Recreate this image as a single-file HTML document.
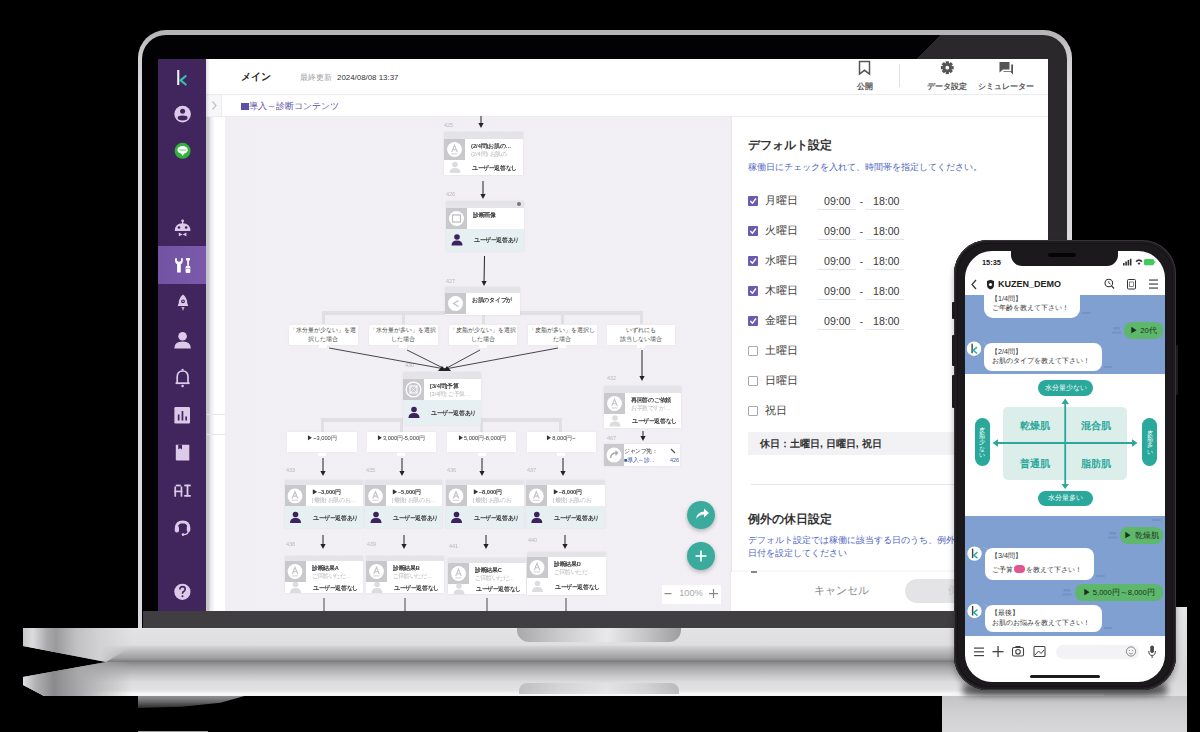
<!DOCTYPE html>
<html><head><meta charset="utf-8"><style>
*{margin:0;padding:0;box-sizing:border-box}
html,body{width:1200px;height:732px;overflow:hidden;background:#000}
body{position:relative;font-family:"Liberation Sans",sans-serif;color:#333}
.a{position:absolute}
.t{position:absolute;white-space:nowrap;line-height:1}
.full{position:absolute;left:0;top:0;width:1200px;height:732px}
svg{position:absolute;left:0;top:0}
</style></head><body>
<div class="a" style="left:138px;top:695px;width:110px;height:13px;background:linear-gradient(#9a9a9c,#6a6a6c 50%,#2a2a2a);clip-path:polygon(0 0,100% 0,75% 60%,40% 90%,0 100%)"></div>
<div class="full" style="background:linear-gradient(#88888a 0px,#88888a 662px,#a8a8aa 668px,#c4c4c6 675px,#dcdcde 682px,#e2e2e4 690px,#f8f8f8 694px,#f4f4f4 696px);clip-path:polygon(106px 662px,1104px 662px,1187px 677px,1187px 685px,1166px 696px,44px 696px,23px 685px,23px 677px)"></div>
<div class="a" style="left:23px;top:662px;width:110px;height:34px;background:linear-gradient(90deg,#e0e0e2 0,#b0b0b2 12%,#8a8a8c 28%,#a8a8aa 50%,rgba(200,200,202,0) 100%);clip-path:polygon(83px 0,110px 0,110px 34px,21px 34px,0 23px,0 15px)"></div>
<div class="full" style="background:linear-gradient(#ebe9ec 628px,#e2e1e4 630px,#dfdee1 645px,#cfcfd1 647px,#b9b9bb 652px,#a0a0a2 658px,#78787a 662px);clip-path:polygon(23px 628px,1187px 628px,1187px 646px,1104px 662px,106px 662px,23px 646px)"></div>
<div class="a" style="left:23px;top:628px;width:110px;height:34px;background:linear-gradient(90deg,#c8c8ca 0,#dcdcde 9%,#a9a9ab 22%,#9a9a9c 30%,#c0c0c2 48%,#d2d2d4 70%,rgba(214,212,215,0) 100%);clip-path:polygon(0 0,100% 0,100% 18px,83px 34px,0 18px)"></div>
<div class="a" style="left:517px;top:628px;width:164px;height:14px;border-radius:0 0 12px 12px;background:linear-gradient(90deg,#a9a9ab,#c9c9cb 25%,#e9e9eb 55%,#c2c2c4 80%,#9d9d9f)"></div>
<div class="a" style="left:519px;top:683px;width:160px;height:11px;border-radius:8px 8px 0 0;background:linear-gradient(90deg,#b4b4b6,#d0d0d2 25%,#e4e4e6 55%,#cdcdcf 80%,#acacae);opacity:.75"></div>
<div class="a" style="left:138px;top:731px;width:70px;height:1px;background:#9a9a9a"></div>
<div class="a" style="left:1104px;top:607px;width:83px;height:90px;background:linear-gradient(#e6e6e8,#dedee0 40%,#d8d8da 80%,#e0e0e2)"></div>
<div class="a" style="left:942px;top:696px;width:245px;height:36px;background:linear-gradient(#c4c4c6,#c8c8ca 6px,#d0d0d2 16px,#d8d8da)"></div>
<div class="a" style="left:962px;top:684px;width:206px;height:12px;border-radius:6px;background:#707072;filter:blur(3px)"></div>
<div class="a" style="left:138px;top:30px;width:934px;height:598px;border-radius:28px 28px 0 0;background:linear-gradient(#b6b4b7 0,#b8b6b9 5px,#d2d0d3 28px,#dcdadd 60px,#dcdadd 100%)"></div>
<div class="a" style="left:142px;top:35px;width:925px;height:593px;border-radius:24px 24px 0 0;background:linear-gradient(135deg,#020103 52.6%,#2a282b 52.6%)"></div>
<div class="a" style="left:143px;top:611px;width:924px;height:17px;background:#403e41"></div>
<div class="full" style="clip-path:inset(59px 152px 121px 158px)">
<div class="a" style="left:158px;top:59px;width:890px;height:552px;background:#fff"></div>
<div class="a" style="left:158px;top:59px;width:48px;height:552px;background:#41255d"></div>
<div class="a" style="left:158px;top:246px;width:48px;height:38px;background:linear-gradient(90deg,#7252a3,#7b5aac)"></div>
<div class="a" style="left:206px;top:117px;width:19px;height:494px;background:linear-gradient(90deg,#c5c6cc 0,#c9cad0 3px,#e6e6ea 4px,#fff 9px,#fff 100%)"></div>
<div class="a" style="left:225px;top:117px;width:506px;height:494px;background:#f1eff4"></div>
<div class="a" style="left:206px;top:94px;width:842px;height:1px;background:#ebebef"></div>
<div class="a" style="left:206px;top:95px;width:16px;height:22px;background:#f7f7f9;border-right:1px solid #ececf0;border-bottom:1px solid #ececf0"></div>
<div class="a" style="left:206px;top:59px;width:4px;height:58px;background:linear-gradient(90deg,rgba(0,0,0,.12),rgba(0,0,0,0))"></div>
<div class="a" style="left:222px;top:116px;width:826px;height:1px;background:#ececf0"></div>
<div class="a" style="left:207px;top:414px;width:18px;height:1px;background:#e8e8ec"></div>
<div class="a" style="left:207px;top:434px;width:18px;height:1px;background:#e8e8ec"></div>
<div class="a" style="left:731px;top:117px;width:317px;height:494px;background:#fff;border-left:1px solid #e8e8ec"></div>
<div class="t" style="left:241px;top:72.4px;font-size:10.2px;color:#222;font-weight:bold;">メイン</div>
<div class="t" style="left:300px;top:73.6px;font-size:7.8px;color:#a0a0a0;font-weight:normal;">最終更新</div>
<div class="t" style="left:337px;top:73.5px;font-size:7.9px;color:#333;font-weight:normal;">2024/08/08 13:37</div>
<div class="t" style="left:714.5px;width:300px;text-align:center;top:82.5px;font-size:8px;color:#555;font-weight:bold;">公開</div>
<div class="t" style="left:797px;width:300px;text-align:center;top:82.5px;font-size:8px;color:#555;font-weight:bold;">データ設定</div>
<div class="t" style="left:856px;width:300px;text-align:center;top:82.5px;font-size:8px;color:#555;font-weight:bold;">シミュレーター</div>
<div class="a" style="left:899px;top:64px;width:1px;height:23px;background:#e2e2e6"></div>
<div class="a" style="left:241px;top:102.5px;width:7.5px;height:7px;background:#5b4fa6"></div>
<div class="t" style="left:249px;top:101.9px;font-size:9.2px;color:#5d52a8;font-weight:normal;">導入～診断コンテンツ</div>
<div class="t" style="left:748px;top:139.0px;font-size:12px;color:#333;font-weight:bold;">デフォルト設定</div>
<div class="t" style="left:748px;top:162.7px;font-size:8.7px;color:#4f66bf;font-weight:normal;">稼働日にチェックを入れて、時間帯を指定してください。</div>
<div class="a" style="left:748px;top:196px;width:10px;height:10px;background:#6a5ab0;border-radius:1px"></div>
<svg width="1200" height="732" style="pointer-events:none"><polyline points="750.3,201.0 752.4,203.2 756,198.5" fill="none" stroke="#fff" stroke-width="1.4"/></svg>
<div class="t" style="left:824px;top:195.7px;font-size:10.6px;color:#3a3a3a;font-weight:normal;">09:00</div>
<div class="t" style="left:873px;top:195.7px;font-size:10.6px;color:#3a3a3a;font-weight:normal;">18:00</div>
<div class="t" style="left:859.5px;top:195.5px;font-size:11px;color:#555;font-weight:normal;">-</div>
<div class="a" style="left:818px;top:209px;width:38px;height:1px;background:#e3e3ea"></div>
<div class="a" style="left:866px;top:209px;width:38px;height:1px;background:#e3e3ea"></div>
<div class="t" style="left:765px;top:195.4px;font-size:11.2px;color:#454545;font-weight:normal;">月曜日</div>
<div class="a" style="left:748px;top:226px;width:10px;height:10px;background:#6a5ab0;border-radius:1px"></div>
<svg width="1200" height="732" style="pointer-events:none"><polyline points="750.3,231.0 752.4,233.2 756,228.5" fill="none" stroke="#fff" stroke-width="1.4"/></svg>
<div class="t" style="left:824px;top:225.7px;font-size:10.6px;color:#3a3a3a;font-weight:normal;">09:00</div>
<div class="t" style="left:873px;top:225.7px;font-size:10.6px;color:#3a3a3a;font-weight:normal;">18:00</div>
<div class="t" style="left:859.5px;top:225.5px;font-size:11px;color:#555;font-weight:normal;">-</div>
<div class="a" style="left:818px;top:239px;width:38px;height:1px;background:#e3e3ea"></div>
<div class="a" style="left:866px;top:239px;width:38px;height:1px;background:#e3e3ea"></div>
<div class="t" style="left:765px;top:225.4px;font-size:11.2px;color:#454545;font-weight:normal;">火曜日</div>
<div class="a" style="left:748px;top:256px;width:10px;height:10px;background:#6a5ab0;border-radius:1px"></div>
<svg width="1200" height="732" style="pointer-events:none"><polyline points="750.3,261.0 752.4,263.2 756,258.5" fill="none" stroke="#fff" stroke-width="1.4"/></svg>
<div class="t" style="left:824px;top:255.7px;font-size:10.6px;color:#3a3a3a;font-weight:normal;">09:00</div>
<div class="t" style="left:873px;top:255.7px;font-size:10.6px;color:#3a3a3a;font-weight:normal;">18:00</div>
<div class="t" style="left:859.5px;top:255.5px;font-size:11px;color:#555;font-weight:normal;">-</div>
<div class="a" style="left:818px;top:269px;width:38px;height:1px;background:#e3e3ea"></div>
<div class="a" style="left:866px;top:269px;width:38px;height:1px;background:#e3e3ea"></div>
<div class="t" style="left:765px;top:255.4px;font-size:11.2px;color:#454545;font-weight:normal;">水曜日</div>
<div class="a" style="left:748px;top:286px;width:10px;height:10px;background:#6a5ab0;border-radius:1px"></div>
<svg width="1200" height="732" style="pointer-events:none"><polyline points="750.3,291.0 752.4,293.2 756,288.5" fill="none" stroke="#fff" stroke-width="1.4"/></svg>
<div class="t" style="left:824px;top:285.7px;font-size:10.6px;color:#3a3a3a;font-weight:normal;">09:00</div>
<div class="t" style="left:873px;top:285.7px;font-size:10.6px;color:#3a3a3a;font-weight:normal;">18:00</div>
<div class="t" style="left:859.5px;top:285.5px;font-size:11px;color:#555;font-weight:normal;">-</div>
<div class="a" style="left:818px;top:299px;width:38px;height:1px;background:#e3e3ea"></div>
<div class="a" style="left:866px;top:299px;width:38px;height:1px;background:#e3e3ea"></div>
<div class="t" style="left:765px;top:285.4px;font-size:11.2px;color:#454545;font-weight:normal;">木曜日</div>
<div class="a" style="left:748px;top:316px;width:10px;height:10px;background:#6a5ab0;border-radius:1px"></div>
<svg width="1200" height="732" style="pointer-events:none"><polyline points="750.3,321.0 752.4,323.2 756,318.5" fill="none" stroke="#fff" stroke-width="1.4"/></svg>
<div class="t" style="left:824px;top:315.7px;font-size:10.6px;color:#3a3a3a;font-weight:normal;">09:00</div>
<div class="t" style="left:873px;top:315.7px;font-size:10.6px;color:#3a3a3a;font-weight:normal;">18:00</div>
<div class="t" style="left:859.5px;top:315.5px;font-size:11px;color:#555;font-weight:normal;">-</div>
<div class="a" style="left:818px;top:329px;width:38px;height:1px;background:#e3e3ea"></div>
<div class="a" style="left:866px;top:329px;width:38px;height:1px;background:#e3e3ea"></div>
<div class="t" style="left:765px;top:315.4px;font-size:11.2px;color:#454545;font-weight:normal;">金曜日</div>
<div class="a" style="left:748px;top:346px;width:10px;height:10px;background:#fff;border:1px solid #a9a9ad;border-radius:1px"></div>
<div class="t" style="left:765px;top:345.4px;font-size:11.2px;color:#454545;font-weight:normal;">土曜日</div>
<div class="a" style="left:748px;top:376px;width:10px;height:10px;background:#fff;border:1px solid #a9a9ad;border-radius:1px"></div>
<div class="t" style="left:765px;top:375.4px;font-size:11.2px;color:#454545;font-weight:normal;">日曜日</div>
<div class="a" style="left:748px;top:406px;width:10px;height:10px;background:#fff;border:1px solid #a9a9ad;border-radius:1px"></div>
<div class="t" style="left:765px;top:405.4px;font-size:11.2px;color:#454545;font-weight:normal;">祝日</div>
<div class="a" style="left:748px;top:432px;width:300px;height:23px;background:#f2f2f5"></div>
<div class="t" style="left:760px;top:438.8px;font-size:10.4px;color:#333;font-weight:bold;">休日：土曜日, 日曜日, 祝日</div>
<div class="a" style="left:751px;top:484px;width:297px;height:1px;background:#e6e6ea"></div>
<div class="t" style="left:748px;top:513.0px;font-size:12px;color:#333;font-weight:bold;">例外の休日設定</div>
<div class="t" style="left:748px;top:536.0px;font-size:9px;color:#4f66bf;font-weight:normal;">デフォルト設定では稼働に該当する日のうち、例外</div>
<div class="t" style="left:748px;top:548.5px;font-size:9px;color:#4f66bf;font-weight:normal;">日付を設定してください</div>
<div class="a" style="left:731px;top:572px;width:317px;height:39px;background:#fff;box-shadow:0 -1px 3px rgba(0,0,0,.06)"></div>
<div class="t" style="left:691px;width:300px;text-align:center;top:584.5px;font-size:11px;color:#8a8a8a;font-weight:normal;">キャンセル</div>
<div class="a" style="left:905px;top:579px;width:120px;height:24px;background:#e4e4e7;border-radius:12px"></div>
<div class="t" style="left:948px;top:585.0px;font-size:11px;color:#c9c9cd;font-weight:normal;">保存</div>
<div class="a" style="left:751px;top:571px;width:6px;height:1.5px;background:#888"></div>
<svg width="1200" height="732"><rect x="177.2" y="70" width="2.1" height="15" fill="#f2f0f6"/><polyline points="186.3,75.5 180.6,80.3 186.3,85" fill="none" stroke="#37bfb5" stroke-width="2.2"/><circle cx="182.6" cy="114.1" r="8.3" fill="#dccbe8"/><circle cx="182.6" cy="111.2" r="2.5" fill="#41255d"/><ellipse cx="182.6" cy="118" rx="5" ry="2.4" fill="#41255d"/><circle cx="182.6" cy="150.8" r="8" fill="#2fb33c"/><ellipse cx="182.6" cy="150" rx="5.2" ry="3.9" fill="#fff"/><path d="M181,153.2 L182.6,155.9 L184.5,153.2Z" fill="#fff"/><rect x="179.5" y="149.2" width="6.2" height="1.6" fill="#2fb33c" opacity=".45"/><circle cx="182.6" cy="220.8" r="1.4" fill="#dccbe8"/><rect x="182" y="221" width="1.2" height="3" fill="#dccbe8"/><path d="M174.8,231 Q174.8,223.2 182.6,223.2 Q190.4,223.2 190.4,231Z" fill="#dccbe8"/><circle cx="179" cy="227.5" r="1.3" fill="#41255d"/><circle cx="186.2" cy="227.5" r="1.3" fill="#41255d"/><path d="M178.8,232.6 L182.6,234.4 L178.8,236.2Z M186.4,232.6 L182.6,234.4 L186.4,236.2Z" fill="#dccbe8"/><path d="M175,258.3 Q174.8,263.6 177.1,264.2 L177.1,272.5 L180.8,272.5 L180.8,264.2 Q183.1,263.6 182.9,258.3 L181.1,258.3 L181.1,260.8 Q179,262.6 176.9,260.8 L176.9,258.3 Z" fill="#fff"/><rect x="186" y="258" width="4" height="2.4" rx=".6" fill="#fff"/><rect x="187.2" y="260" width="1.7" height="5.8" fill="#fff"/><rect x="185.6" y="266" width="4.7" height="7" rx="1" fill="#fff"/><rect x="185.6" y="268.2" width="4.7" height=".7" fill="#9c86c4"/><path d="M183,294.6 Q187.2,298 187.2,303 L188.3,306 L177.7,306 L178.8,303 Q178.8,298 183,294.6Z" fill="#dccbe8"/><circle cx="183" cy="301.3" r="1.9" fill="#41255d"/><circle cx="183" cy="301.3" r=".8" fill="#dccbe8"/><path d="M181.4,307 L184.6,307 L183,311Z" fill="#dccbe8" opacity=".8"/><circle cx="182.6" cy="336.3" r="4.3" fill="#dccbe8"/><path d="M174.3,348.4 Q174.3,341.6 182.6,341.6 Q190.9,341.6 190.9,348.4Z" fill="#dccbe8"/><path d="M177.2,383 L177.2,377 Q177.2,371 182.6,371 Q188,371 188,377 L188,383" fill="none" stroke="#dccbe8" stroke-width="1.7"/><path d="M175.6,383.2 L189.6,383.2" stroke="#dccbe8" stroke-width="1.8"/><circle cx="182.6" cy="369.8" r="1.1" fill="#dccbe8"/><circle cx="182.6" cy="386" r="1.3" fill="#dccbe8"/><rect x="174.4" y="407" width="15.6" height="16.5" rx="1.2" fill="#dccbe8"/><rect x="177.8" y="414.5" width="1.7" height="6" fill="#41255d"/><rect x="181.6" y="411" width="1.7" height="9.5" fill="#41255d"/><rect x="185.3" y="416.5" width="1.7" height="4" fill="#41255d"/><path d="M175.8,444.8 L189.3,444.8 L189.3,460.6 L177.2,460.6 Q175.8,460.6 175.8,459.2Z" fill="#dccbe8"/><path d="M178.2,444.8 L182,444.8 L182,449.5 L180.1,448.2 L178.2,449.5Z" fill="#41255d"/><g fill="#dccbe8"><rect x="174.4" y="486.4" width="1.7" height="10.3"/><rect x="180.6" y="486.4" width="1.7" height="10.3"/><rect x="175.8" y="484.6" width="5" height="1.8"/><rect x="174.4" y="490.6" width="7.9" height="1.6"/><rect x="184.2" y="484.6" width="6.6" height="1.7"/><rect x="184.2" y="495" width="6.6" height="1.7"/><rect x="186.6" y="484.6" width="1.8" height="12"/></g><path d="M176.4,529 L176.4,527.5 Q176.6,522 182.8,521.8 Q188.6,522 188.8,527.5 L188.8,530" fill="none" stroke="#dccbe8" stroke-width="2.7"/><rect x="174.8" y="525.8" width="4.2" height="6.6" rx="2" fill="#dccbe8"/><rect x="186.8" y="525.5" width="3.4" height="6.2" rx="1.5" fill="#dccbe8"/><path d="M188.5,531 Q188,534.6 183.5,534.6" fill="none" stroke="#dccbe8" stroke-width="1.4"/><circle cx="183" cy="534.6" r="1.3" fill="#dccbe8"/><circle cx="182.4" cy="591.8" r="8.1" fill="#dccbe8"/><path d="M179.8,589.6 Q179.8,586.6 182.5,586.6 Q185.2,586.6 185.2,589.2 Q185.2,590.8 183.3,591.8 Q182.5,592.3 182.5,593.8" fill="none" stroke="#41255d" stroke-width="1.6"/><circle cx="182.5" cy="596.3" r="1" fill="#41255d"/><path d="M859.5,61.5 L869.5,61.5 L869.5,74 L864.5,70.3 L859.5,74Z" fill="none" stroke="#555" stroke-width="1.5"/><g fill="#555"><rect x="945.70" y="61.30" width="3.2" height="3" transform="rotate(0 947.3 67.7)"/><rect x="945.70" y="61.30" width="3.2" height="3" transform="rotate(45 947.3 67.7)"/><rect x="945.70" y="61.30" width="3.2" height="3" transform="rotate(90 947.3 67.7)"/><rect x="945.70" y="61.30" width="3.2" height="3" transform="rotate(135 947.3 67.7)"/><rect x="945.70" y="61.30" width="3.2" height="3" transform="rotate(180 947.3 67.7)"/><rect x="945.70" y="61.30" width="3.2" height="3" transform="rotate(225 947.3 67.7)"/><rect x="945.70" y="61.30" width="3.2" height="3" transform="rotate(270 947.3 67.7)"/><rect x="945.70" y="61.30" width="3.2" height="3" transform="rotate(315 947.3 67.7)"/><circle cx="947.3" cy="67.7" r="4.6"/></g><circle cx="947.3" cy="67.7" r="1.9" fill="#fff"/><path d="M999.5,62 L1009.5,62 L1009.5,69.5 L1003,69.5 L999.5,72.5Z" fill="#555"/><path d="M1011.2,64.5 L1013,64.5 L1013,74.5 L1010.5,72 L1003.5,72 L1003.5,71.2 L1011.2,71.2Z" fill="#555"/><polyline points="212.5,101.5 216,105.5 212.5,109.5" fill="none" stroke="#c2c2c8" stroke-width="1.2"/></svg>
<div class="a" style="left:258px;top:128px;width:470px;height:480px;background-image:linear-gradient(rgba(255,255,255,.55) 1px,transparent 1px),linear-gradient(90deg,rgba(255,255,255,.55) 1px,transparent 1px);background-size:6px 6px;opacity:.15"></div>
<div class="t" style="left:444px;top:122.0px;font-size:6px;color:#bab8c0;font-weight:normal;transform:scale(0.917);transform-origin:0 50%;">425</div>
<div class="a" style="left:444px;top:132px;width:79px;height:43px;background:#fff;box-shadow:0 0 2px rgba(0,0,0,.08)"></div>
<div class="a" style="left:444px;top:132px;width:79px;height:7px;background:#e4e3e8"></div>
<div class="a" style="left:444px;top:139px;width:21px;height:21px;background:#c9c8cd"></div>
<div class="t" style="left:471px;top:142.5px;font-size:6px;color:#333;font-weight:bold;transform:scale(0.950);transform-origin:0 50%;">(2/4問)お肌の…</div>
<div class="t" style="left:471px;top:151.0px;font-size:6px;color:#b5b5bb;font-weight:normal;transform:scale(0.933);transform-origin:0 50%;">(2/4問) お肌の</div>
<div class="t" style="left:472px;top:164.5px;font-size:6px;color:#333;font-weight:bold;transform:scale(0.933);transform-origin:0 50%;">ユーザー返答なし</div>
<div class="t" style="left:446px;top:191.0px;font-size:6px;color:#bab8c0;font-weight:normal;transform:scale(0.917);transform-origin:0 50%;">426</div>
<div class="a" style="left:446px;top:201px;width:78px;height:50px;background:#fff;box-shadow:0 0 2px rgba(0,0,0,.08)"></div>
<div class="a" style="left:446px;top:201px;width:78px;height:7px;background:#e4e3e8"></div>
<div class="a" style="left:446px;top:208px;width:21px;height:21px;background:#c9c8cd"></div>
<div class="t" style="left:473px;top:211.5px;font-size:6px;color:#333;font-weight:bold;transform:scale(0.950);transform-origin:0 50%;">診断画像</div>
<div class="a" style="left:446px;top:229px;width:78px;height:22px;background:#e6f0f2"></div>
<div class="t" style="left:474px;top:237.0px;font-size:6px;color:#333;font-weight:bold;transform:scale(0.933);transform-origin:0 50%;">ユーザー返答あり</div>
<div class="t" style="left:446px;top:278.0px;font-size:6px;color:#bab8c0;font-weight:normal;transform:scale(0.917);transform-origin:0 50%;">427</div>
<div class="a" style="left:322px;top:311px;width:321px;height:3.5px;background:#e0dfe4"></div>
<div class="a" style="left:321.5px;top:311px;width:3px;height:13px;background:#e0dfe4"></div>
<div class="a" style="left:401.5px;top:311px;width:3px;height:13px;background:#e0dfe4"></div>
<div class="a" style="left:481.5px;top:311px;width:3px;height:13px;background:#e0dfe4"></div>
<div class="a" style="left:560.5px;top:311px;width:3px;height:13px;background:#e0dfe4"></div>
<div class="a" style="left:639.5px;top:311px;width:3px;height:13px;background:#e0dfe4"></div>
<div class="a" style="left:445px;top:287px;width:75px;height:28px;background:#fff;box-shadow:0 0 2px rgba(0,0,0,.08)"></div>
<div class="a" style="left:445px;top:287px;width:75px;height:6px;background:#e4e3e8"></div>
<div class="a" style="left:445px;top:293px;width:21px;height:21px;background:#c9c8cd"></div>
<div class="t" style="left:472px;top:296.5px;font-size:6px;color:#333;font-weight:bold;transform:scale(0.950);transform-origin:0 50%;">お肌のタイプが</div>
<div class="a" style="left:288.75px;top:324.5px;width:68.94999999999999px;height:20px;background:#fff;box-shadow:0 0 2px rgba(0,0,0,.06)"></div>
<div class="t" style="left:173.22500000000002px;width:300px;text-align:center;top:327.3px;font-size:6.4px;color:#444;font-weight:normal;">「水分量が少ない」を選</div>
<div class="t" style="left:173.22500000000002px;width:300px;text-align:center;top:335.8px;font-size:6.4px;color:#444;font-weight:normal;">択した場合</div>
<div class="a" style="left:319.225px;top:345px;width:8px;height:3px;background:#fff"></div>
<div class="a" style="left:369px;top:324.5px;width:68.5px;height:20px;background:#fff;box-shadow:0 0 2px rgba(0,0,0,.06)"></div>
<div class="t" style="left:253.25px;width:300px;text-align:center;top:327.3px;font-size:6.4px;color:#444;font-weight:normal;">「水分量が多い」を選択</div>
<div class="t" style="left:253.25px;width:300px;text-align:center;top:335.8px;font-size:6.4px;color:#444;font-weight:normal;">した場合</div>
<div class="a" style="left:399.25px;top:345px;width:8px;height:3px;background:#fff"></div>
<div class="a" style="left:448.7px;top:324.5px;width:68.59999999999997px;height:20px;background:#fff;box-shadow:0 0 2px rgba(0,0,0,.06)"></div>
<div class="t" style="left:333.0px;width:300px;text-align:center;top:327.3px;font-size:6.4px;color:#444;font-weight:normal;">「皮脂が少ない」を選択</div>
<div class="t" style="left:333.0px;width:300px;text-align:center;top:335.8px;font-size:6.4px;color:#444;font-weight:normal;">した場合</div>
<div class="a" style="left:479.0px;top:345px;width:8px;height:3px;background:#fff"></div>
<div class="a" style="left:527.8px;top:324.5px;width:69.0px;height:20px;background:#fff;box-shadow:0 0 2px rgba(0,0,0,.06)"></div>
<div class="t" style="left:412.29999999999995px;width:300px;text-align:center;top:327.3px;font-size:6.4px;color:#444;font-weight:normal;">「皮脂が多い」を選択し</div>
<div class="t" style="left:412.29999999999995px;width:300px;text-align:center;top:335.8px;font-size:6.4px;color:#444;font-weight:normal;">た場合</div>
<div class="a" style="left:558.3px;top:345px;width:8px;height:3px;background:#fff"></div>
<div class="a" style="left:607.3px;top:324.5px;width:68.20000000000005px;height:20px;background:#fff;box-shadow:0 0 2px rgba(0,0,0,.06)"></div>
<div class="t" style="left:491.4px;width:300px;text-align:center;top:327.3px;font-size:6.4px;color:#444;font-weight:normal;">いずれにも</div>
<div class="t" style="left:491.4px;width:300px;text-align:center;top:335.8px;font-size:6.4px;color:#444;font-weight:normal;">該当しない場合</div>
<div class="a" style="left:637.4px;top:345px;width:8px;height:3px;background:#fff"></div>
<div class="t" style="left:405px;top:362.0px;font-size:6px;color:#bab8c0;font-weight:normal;transform:scale(0.917);transform-origin:0 50%;">430</div>
<div class="t" style="left:607px;top:375.0px;font-size:6px;color:#bab8c0;font-weight:normal;transform:scale(0.917);transform-origin:0 50%;">432</div>
<div class="a" style="left:322px;top:418px;width:239px;height:3.5px;background:#e0dfe4"></div>
<div class="a" style="left:320.5px;top:418px;width:3px;height:14px;background:#e0dfe4"></div>
<div class="a" style="left:399.5px;top:418px;width:3px;height:14px;background:#e0dfe4"></div>
<div class="a" style="left:479.5px;top:418px;width:3px;height:14px;background:#e0dfe4"></div>
<div class="a" style="left:558.5px;top:418px;width:3px;height:14px;background:#e0dfe4"></div>
<div class="a" style="left:403px;top:372px;width:78px;height:53px;background:#fff;box-shadow:0 0 2px rgba(0,0,0,.08)"></div>
<div class="a" style="left:403px;top:372px;width:78px;height:7px;background:#e4e3e8"></div>
<div class="a" style="left:403px;top:379px;width:21px;height:21px;background:#c9c8cd"></div>
<div class="t" style="left:430px;top:382.5px;font-size:6px;color:#333;font-weight:bold;transform:scale(0.950);transform-origin:0 50%;">[3/4問]予算</div>
<div class="t" style="left:430px;top:391.0px;font-size:6px;color:#b5b5bb;font-weight:normal;transform:scale(0.933);transform-origin:0 50%;">[3/4問] ご予算…</div>
<div class="a" style="left:403px;top:400px;width:78px;height:25px;background:#e6f0f2"></div>
<div class="t" style="left:431px;top:409.5px;font-size:6px;color:#333;font-weight:bold;transform:scale(0.933);transform-origin:0 50%;">ユーザー返答あり</div>
<div class="a" style="left:287px;top:432px;width:70px;height:20px;background:#fff;box-shadow:0 0 2px rgba(0,0,0,.06)"></div>
<div class="t" style="left:172.0px;width:300px;text-align:center;top:434.5px;font-size:6px;color:#333;font-weight:normal;transform:scale(0.950);transform-origin:50% 50%;">▶~3,000円</div>
<div class="a" style="left:318.0px;top:453px;width:8px;height:3px;background:#fff"></div>
<div class="a" style="left:366.8px;top:432px;width:68.94999999999999px;height:20px;background:#fff;box-shadow:0 0 2px rgba(0,0,0,.06)"></div>
<div class="t" style="left:251.27499999999998px;width:300px;text-align:center;top:434.5px;font-size:6px;color:#333;font-weight:normal;transform:scale(0.950);transform-origin:50% 50%;">▶3,000円-5,000円</div>
<div class="a" style="left:397.275px;top:453px;width:8px;height:3px;background:#fff"></div>
<div class="a" style="left:447px;top:432px;width:69.29999999999995px;height:20px;background:#fff;box-shadow:0 0 2px rgba(0,0,0,.06)"></div>
<div class="t" style="left:331.65px;width:300px;text-align:center;top:434.5px;font-size:6px;color:#333;font-weight:normal;transform:scale(0.950);transform-origin:50% 50%;">▶5,000円-8,000円</div>
<div class="a" style="left:477.65px;top:453px;width:8px;height:3px;background:#fff"></div>
<div class="a" style="left:526.75px;top:432px;width:69.25px;height:20px;background:#fff;box-shadow:0 0 2px rgba(0,0,0,.06)"></div>
<div class="t" style="left:411.375px;width:300px;text-align:center;top:434.5px;font-size:6px;color:#333;font-weight:normal;transform:scale(0.950);transform-origin:50% 50%;">▶8,000円~</div>
<div class="a" style="left:557.375px;top:453px;width:8px;height:3px;background:#fff"></div>
<div class="a" style="left:604px;top:386px;width:77px;height:42px;background:#fff;box-shadow:0 0 2px rgba(0,0,0,.08)"></div>
<div class="a" style="left:604px;top:386px;width:77px;height:7px;background:#e4e3e8"></div>
<div class="a" style="left:604px;top:393px;width:21px;height:21px;background:#c9c8cd"></div>
<div class="t" style="left:631px;top:396.5px;font-size:6px;color:#333;font-weight:bold;transform:scale(0.950);transform-origin:0 50%;">再回答のご依頼</div>
<div class="t" style="left:631px;top:405.0px;font-size:6px;color:#b5b5bb;font-weight:normal;transform:scale(0.933);transform-origin:0 50%;">お手数ですが…</div>
<div class="t" style="left:632px;top:418.0px;font-size:6px;color:#333;font-weight:bold;transform:scale(0.933);transform-origin:0 50%;">ユーザー返答なし</div>
<div class="t" style="left:607px;top:435.0px;font-size:6px;color:#bab8c0;font-weight:normal;transform:scale(0.917);transform-origin:0 50%;">467</div>
<div class="a" style="left:604px;top:444px;width:76px;height:22px;background:#fff;box-shadow:0 0 2px rgba(0,0,0,.08)"></div>
<div class="a" style="left:604px;top:444px;width:20px;height:22px;background:#c9c8cd"></div>
<div class="t" style="left:624px;top:447.5px;font-size:6px;color:#333;font-weight:normal;transform:scale(0.933);transform-origin:0 50%;">ジャンプ先：</div>
<div class="t" style="left:624px;top:457.0px;font-size:6px;color:#3a5aa8;font-weight:normal;transform:scale(0.917);transform-origin:0 50%;">■導入～診…</div>
<div class="t" style="left:670px;top:457.0px;font-size:6px;color:#3a5aa8;font-weight:normal;transform:scale(0.917);transform-origin:0 50%;">426</div>
<div class="t" style="left:285.5px;top:467.0px;font-size:6px;color:#bab8c0;font-weight:normal;transform:scale(0.917);transform-origin:0 50%;">433</div>
<div class="a" style="left:284.5px;top:480.4px;width:78.69999999999999px;height:48.10000000000002px;background:#fff;box-shadow:0 0 2px rgba(0,0,0,.08)"></div>
<div class="a" style="left:284.5px;top:480.4px;width:78.69999999999999px;height:5px;background:#e4e3e8"></div>
<div class="a" style="left:284.5px;top:485.4px;width:21px;height:21px;background:#c9c8cd"></div>
<div class="t" style="left:311.5px;top:488.9px;font-size:6px;color:#333;font-weight:bold;transform:scale(0.950);transform-origin:0 50%;">▶~3,000円</div>
<div class="t" style="left:311.5px;top:497.4px;font-size:6px;color:#b5b5bb;font-weight:normal;transform:scale(0.933);transform-origin:0 50%;">[最後] お肌のお…</div>
<div class="a" style="left:284.5px;top:506.4px;width:78.69999999999999px;height:22.100000000000023px;background:#e6f0f2"></div>
<div class="t" style="left:312.5px;top:514.5px;font-size:6px;color:#333;font-weight:bold;transform:scale(0.933);transform-origin:0 50%;">ユーザー返答あり</div>
<div class="t" style="left:366px;top:467.0px;font-size:6px;color:#bab8c0;font-weight:normal;transform:scale(0.917);transform-origin:0 50%;">435</div>
<div class="a" style="left:365px;top:480.4px;width:77.30000000000001px;height:48.10000000000002px;background:#fff;box-shadow:0 0 2px rgba(0,0,0,.08)"></div>
<div class="a" style="left:365px;top:480.4px;width:77.30000000000001px;height:5px;background:#e4e3e8"></div>
<div class="a" style="left:365px;top:485.4px;width:21px;height:21px;background:#c9c8cd"></div>
<div class="t" style="left:392px;top:488.9px;font-size:6px;color:#333;font-weight:bold;transform:scale(0.950);transform-origin:0 50%;">▶~5,000円</div>
<div class="t" style="left:392px;top:497.4px;font-size:6px;color:#b5b5bb;font-weight:normal;transform:scale(0.933);transform-origin:0 50%;">[最後] お肌のお…</div>
<div class="a" style="left:365px;top:506.4px;width:77.30000000000001px;height:22.100000000000023px;background:#e6f0f2"></div>
<div class="t" style="left:393px;top:514.5px;font-size:6px;color:#333;font-weight:bold;transform:scale(0.933);transform-origin:0 50%;">ユーザー返答あり</div>
<div class="t" style="left:446.5px;top:467.0px;font-size:6px;color:#bab8c0;font-weight:normal;transform:scale(0.917);transform-origin:0 50%;">436</div>
<div class="a" style="left:445.5px;top:480.4px;width:78.29999999999995px;height:48.10000000000002px;background:#fff;box-shadow:0 0 2px rgba(0,0,0,.08)"></div>
<div class="a" style="left:445.5px;top:480.4px;width:78.29999999999995px;height:5px;background:#e4e3e8"></div>
<div class="a" style="left:445.5px;top:485.4px;width:21px;height:21px;background:#c9c8cd"></div>
<div class="t" style="left:472.5px;top:488.9px;font-size:6px;color:#333;font-weight:bold;transform:scale(0.950);transform-origin:0 50%;">▶~8,000円</div>
<div class="t" style="left:472.5px;top:497.4px;font-size:6px;color:#b5b5bb;font-weight:normal;transform:scale(0.933);transform-origin:0 50%;">[最後] お肌のお</div>
<div class="a" style="left:445.5px;top:506.4px;width:78.29999999999995px;height:22.100000000000023px;background:#e6f0f2"></div>
<div class="t" style="left:473.5px;top:514.5px;font-size:6px;color:#333;font-weight:bold;transform:scale(0.933);transform-origin:0 50%;">ユーザー返答あり</div>
<div class="t" style="left:526.8px;top:467.0px;font-size:6px;color:#bab8c0;font-weight:normal;transform:scale(0.917);transform-origin:0 50%;">437</div>
<div class="a" style="left:525.8px;top:480.4px;width:79.20000000000005px;height:48.10000000000002px;background:#fff;box-shadow:0 0 2px rgba(0,0,0,.08)"></div>
<div class="a" style="left:525.8px;top:480.4px;width:79.20000000000005px;height:5px;background:#e4e3e8"></div>
<div class="a" style="left:525.8px;top:485.4px;width:21px;height:21px;background:#c9c8cd"></div>
<div class="t" style="left:552.8px;top:488.9px;font-size:6px;color:#333;font-weight:bold;transform:scale(0.950);transform-origin:0 50%;">▶~8,000円</div>
<div class="t" style="left:552.8px;top:497.4px;font-size:6px;color:#b5b5bb;font-weight:normal;transform:scale(0.933);transform-origin:0 50%;">[最後] お肌のお</div>
<div class="a" style="left:525.8px;top:506.4px;width:79.20000000000005px;height:22.100000000000023px;background:#e6f0f2"></div>
<div class="t" style="left:553.8px;top:514.5px;font-size:6px;color:#333;font-weight:bold;transform:scale(0.933);transform-origin:0 50%;">ユーザー返答あり</div>
<div class="t" style="left:285.5px;top:541.0px;font-size:6px;color:#bab8c0;font-weight:normal;transform:scale(0.917);transform-origin:0 50%;">438</div>
<div class="a" style="left:284.5px;top:556px;width:78.5px;height:37px;background:#fff;box-shadow:0 0 2px rgba(0,0,0,.08)"></div>
<div class="a" style="left:284.5px;top:556px;width:78.5px;height:5px;background:#e4e3e8"></div>
<div class="a" style="left:284.5px;top:561px;width:21px;height:21px;background:#c9c8cd"></div>
<div class="t" style="left:311.5px;top:564.5px;font-size:6px;color:#333;font-weight:bold;transform:scale(0.950);transform-origin:0 50%;">診断結果A</div>
<div class="t" style="left:311.5px;top:573.0px;font-size:6px;color:#b5b5bb;font-weight:normal;transform:scale(0.933);transform-origin:0 50%;">ご回答いただ…</div>
<div class="t" style="left:312.5px;top:584.5px;font-size:6px;color:#333;font-weight:bold;transform:scale(0.933);transform-origin:0 50%;">ユーザー返答なし</div>
<div class="t" style="left:367px;top:541.0px;font-size:6px;color:#bab8c0;font-weight:normal;transform:scale(0.917);transform-origin:0 50%;">439</div>
<div class="a" style="left:366px;top:556px;width:78.30000000000001px;height:37px;background:#fff;box-shadow:0 0 2px rgba(0,0,0,.08)"></div>
<div class="a" style="left:366px;top:556px;width:78.30000000000001px;height:5px;background:#e4e3e8"></div>
<div class="a" style="left:366px;top:561px;width:21px;height:21px;background:#c9c8cd"></div>
<div class="t" style="left:393px;top:564.5px;font-size:6px;color:#333;font-weight:bold;transform:scale(0.950);transform-origin:0 50%;">診断結果B</div>
<div class="t" style="left:393px;top:573.0px;font-size:6px;color:#b5b5bb;font-weight:normal;transform:scale(0.933);transform-origin:0 50%;">ご回答いただ…</div>
<div class="t" style="left:394px;top:584.5px;font-size:6px;color:#333;font-weight:bold;transform:scale(0.933);transform-origin:0 50%;">ユーザー返答なし</div>
<div class="t" style="left:449px;top:543.0px;font-size:6px;color:#bab8c0;font-weight:normal;transform:scale(0.917);transform-origin:0 50%;">441</div>
<div class="a" style="left:448px;top:558px;width:77.79999999999995px;height:36px;background:#fff;box-shadow:0 0 2px rgba(0,0,0,.08)"></div>
<div class="a" style="left:448px;top:558px;width:77.79999999999995px;height:5px;background:#e4e3e8"></div>
<div class="a" style="left:448px;top:563px;width:21px;height:21px;background:#c9c8cd"></div>
<div class="t" style="left:475px;top:566.5px;font-size:6px;color:#333;font-weight:bold;transform:scale(0.950);transform-origin:0 50%;">診断結果C</div>
<div class="t" style="left:475px;top:575.0px;font-size:6px;color:#b5b5bb;font-weight:normal;transform:scale(0.933);transform-origin:0 50%;">ご回答いただ…</div>
<div class="t" style="left:476px;top:586.0px;font-size:6px;color:#333;font-weight:bold;transform:scale(0.933);transform-origin:0 50%;">ユーザー返答なし</div>
<div class="t" style="left:527.5px;top:537.0px;font-size:6px;color:#bab8c0;font-weight:normal;transform:scale(0.917);transform-origin:0 50%;">440</div>
<div class="a" style="left:526.5px;top:552px;width:79.5px;height:43px;background:#fff;box-shadow:0 0 2px rgba(0,0,0,.08)"></div>
<div class="a" style="left:526.5px;top:552px;width:79.5px;height:5px;background:#e4e3e8"></div>
<div class="a" style="left:526.5px;top:557px;width:21px;height:21px;background:#c9c8cd"></div>
<div class="t" style="left:553.5px;top:560.5px;font-size:6px;color:#333;font-weight:bold;transform:scale(0.950);transform-origin:0 50%;">診断結果D</div>
<div class="t" style="left:553.5px;top:569.0px;font-size:6px;color:#b5b5bb;font-weight:normal;transform:scale(0.933);transform-origin:0 50%;">ご回答いただ…</div>
<div class="t" style="left:554.5px;top:583.5px;font-size:6px;color:#333;font-weight:bold;transform:scale(0.933);transform-origin:0 50%;">ユーザー返答なし</div>
<div class="a" style="left:687px;top:500.5px;width:28px;height:28px;border-radius:50%;background:#3aab9d;box-shadow:0 2px 4px rgba(0,0,0,.25)"></div>
<div class="a" style="left:687px;top:542px;width:28px;height:28px;border-radius:50%;background:#3aab9d;box-shadow:0 2px 4px rgba(0,0,0,.25)"></div>
<div class="a" style="left:662px;top:584.5px;width:59px;height:19px;background:#fff"></div>
<div class="t" style="left:541px;width:300px;text-align:center;top:589.4px;font-size:9.2px;color:#aaa;font-weight:normal;">100%</div>
<svg width="1200" height="732"><line x1="481" y1="116" x2="481" y2="125" stroke="#222" stroke-width="1"/><path d="M481.0,128.0 L483.6,123.0 L478.4,123.0Z" fill="#222"/><circle cx="454.5" cy="149.5" r="7.4" fill="#fff"/><path d="M451.7,152.1 L454.5,145.3 L457.3,152.1 M452.8,149.7 L456.2,149.7" fill="none" stroke="#c2c1c6" stroke-width="1.1"/><line x1="451.3" y1="153.9" x2="457.7" y2="153.9" stroke="#c8c7cc" stroke-width=".8"/><circle cx="455" cy="164.5" r="2.8" fill="#dcdce0"/><path d="M449.5,173.0 Q449.5,168.0 455,168.0 Q460.5,168.0 460.5,173.0Z" fill="#dcdce0"/><line x1="483" y1="181" x2="483" y2="196" stroke="#222" stroke-width="1"/><path d="M483.0,199.0 L485.6,194.0 L480.4,194.0Z" fill="#222"/><circle cx="456.5" cy="218.5" r="7.5" fill="#fff"/><rect x="452.5" y="215.0" width="8" height="7" fill="none" stroke="#bdbcc2" stroke-width="1.2"/><circle cx="457" cy="237.0" r="2.8" fill="#3e215f"/><path d="M451.5,245.5 Q451.5,240.5 457,240.5 Q462.5,240.5 462.5,245.5Z" fill="#3e215f"/><circle cx="519" cy="204" r="2" fill="#777"/><line x1="484.5" y1="256" x2="484" y2="283" stroke="#222" stroke-width="1"/><path d="M484.0,286.0 L486.7,281.0 L481.5,281.0Z" fill="#222"/><circle cx="455.5" cy="303.5" r="7.5" fill="#fff"/><path d="M458.5,300.5 L453.5,303.5 L458.5,306.5" fill="none" stroke="#bdbcc2" stroke-width="1.2"/><line x1="329" y1="348" x2="445" y2="369" stroke="#333" stroke-width="0.9"/><line x1="407" y1="350" x2="445" y2="369" stroke="#333" stroke-width="0.9"/><line x1="480" y1="350" x2="445" y2="369" stroke="#333" stroke-width="0.9"/><line x1="558" y1="348" x2="445" y2="369" stroke="#333" stroke-width="0.9"/><path d="M438,371 L442,366 L446,371Z M443,371 L447,366 L451,371Z" fill="#222"/><line x1="642" y1="350" x2="642" y2="378" stroke="#222" stroke-width="1"/><path d="M642.0,381.0 L644.6,376.0 L639.4,376.0Z" fill="#222"/><circle cx="413.5" cy="389.5" r="7.4" fill="none" stroke="#fff" stroke-width="1.3"/><rect x="410.0" y="386.0" width="7" height="7" fill="none" stroke="#fff" stroke-width="1.1"/><path d="M410.0,386.0 L417.0,393.0 M417.0,386.0 L410.0,393.0" stroke="#fff" stroke-width=".7"/><circle cx="414" cy="409.5" r="2.8" fill="#3e215f"/><path d="M408.5,418.0 Q408.5,413.0 414,413.0 Q419.5,413.0 419.5,418.0Z" fill="#3e215f"/><line x1="323" y1="458" x2="323" y2="473" stroke="#222" stroke-width="1"/><path d="M323.0,476.0 L325.6,471.0 L320.4,471.0Z" fill="#222"/><line x1="402" y1="458" x2="402" y2="473" stroke="#222" stroke-width="1"/><path d="M402.0,476.0 L404.6,471.0 L399.4,471.0Z" fill="#222"/><line x1="482" y1="458" x2="482" y2="473" stroke="#222" stroke-width="1"/><path d="M482.0,476.0 L484.6,471.0 L479.4,471.0Z" fill="#222"/><line x1="563" y1="458" x2="563" y2="473" stroke="#222" stroke-width="1"/><path d="M563.0,476.0 L565.6,471.0 L560.4,471.0Z" fill="#222"/><circle cx="614.5" cy="403.5" r="7.4" fill="#fff"/><path d="M611.7,406.1 L614.5,399.3 L617.3,406.1 M612.8,403.7 L616.2,403.7" fill="none" stroke="#c2c1c6" stroke-width="1.1"/><line x1="611.3" y1="407.9" x2="617.7" y2="407.9" stroke="#c8c7cc" stroke-width=".8"/><circle cx="615" cy="418.0" r="2.8" fill="#dcdce0"/><path d="M609.5,426.5 Q609.5,421.5 615,421.5 Q620.5,421.5 620.5,426.5Z" fill="#dcdce0"/><line x1="643" y1="431" x2="643" y2="438" stroke="#222" stroke-width="1"/><path d="M643.0,441.0 L645.6,436.0 L640.4,436.0Z" fill="#222"/><circle cx="614.0" cy="455.0" r="7.5" fill="#fff"/><path d="M610.5,458.0 Q611.0,453.0 616.0,453.0" fill="none" stroke="#aaa" stroke-width="1.5"/><path d="M615.5,450.0 L618.5,453.0 L615.5,456.0Z" fill="#aaa"/><path d="M671,449 L675,453" stroke="#555" stroke-width="1.3"/><circle cx="295.0" cy="495.9" r="7.4" fill="#fff"/><path d="M292.2,498.5 L295.0,491.7 L297.8,498.5 M293.3,496.09999999999997 L296.7,496.09999999999997" fill="none" stroke="#c2c1c6" stroke-width="1.1"/><line x1="291.8" y1="500.29999999999995" x2="298.2" y2="500.29999999999995" stroke="#c8c7cc" stroke-width=".8"/><circle cx="295.5" cy="514.45" r="2.8" fill="#3e215f"/><path d="M290.0,522.95 Q290.0,517.95 295.5,517.95 Q301.0,517.95 301.0,522.95Z" fill="#3e215f"/><circle cx="375.5" cy="495.9" r="7.4" fill="#fff"/><path d="M372.7,498.5 L375.5,491.7 L378.3,498.5 M373.8,496.09999999999997 L377.2,496.09999999999997" fill="none" stroke="#c2c1c6" stroke-width="1.1"/><line x1="372.3" y1="500.29999999999995" x2="378.7" y2="500.29999999999995" stroke="#c8c7cc" stroke-width=".8"/><circle cx="376" cy="514.45" r="2.8" fill="#3e215f"/><path d="M370.5,522.95 Q370.5,517.95 376,517.95 Q381.5,517.95 381.5,522.95Z" fill="#3e215f"/><circle cx="456.0" cy="495.9" r="7.4" fill="#fff"/><path d="M453.2,498.5 L456.0,491.7 L458.8,498.5 M454.3,496.09999999999997 L457.7,496.09999999999997" fill="none" stroke="#c2c1c6" stroke-width="1.1"/><line x1="452.8" y1="500.29999999999995" x2="459.2" y2="500.29999999999995" stroke="#c8c7cc" stroke-width=".8"/><circle cx="456.5" cy="514.45" r="2.8" fill="#3e215f"/><path d="M451.0,522.95 Q451.0,517.95 456.5,517.95 Q462.0,517.95 462.0,522.95Z" fill="#3e215f"/><circle cx="536.3" cy="495.9" r="7.4" fill="#fff"/><path d="M533.5,498.5 L536.3,491.7 L539.0999999999999,498.5 M534.5999999999999,496.09999999999997 L538.0,496.09999999999997" fill="none" stroke="#c2c1c6" stroke-width="1.1"/><line x1="533.0999999999999" y1="500.29999999999995" x2="539.5" y2="500.29999999999995" stroke="#c8c7cc" stroke-width=".8"/><circle cx="536.8" cy="514.45" r="2.8" fill="#3e215f"/><path d="M531.3,522.95 Q531.3,517.95 536.8,517.95 Q542.3,517.95 542.3,522.95Z" fill="#3e215f"/><line x1="323" y1="535" x2="323" y2="546" stroke="#222" stroke-width="1"/><path d="M323.0,549.0 L325.6,544.0 L320.4,544.0Z" fill="#222"/><line x1="404" y1="535" x2="404" y2="546" stroke="#222" stroke-width="1"/><path d="M404.0,549.0 L406.6,544.0 L401.4,544.0Z" fill="#222"/><line x1="486" y1="535" x2="486" y2="546" stroke="#222" stroke-width="1"/><path d="M486.0,549.0 L488.6,544.0 L483.4,544.0Z" fill="#222"/><line x1="565" y1="535" x2="565" y2="546" stroke="#222" stroke-width="1"/><path d="M565.0,549.0 L567.6,544.0 L562.4,544.0Z" fill="#222"/><circle cx="295.0" cy="571.5" r="7.4" fill="#fff"/><path d="M292.2,574.1 L295.0,567.3 L297.8,574.1 M293.3,571.7 L296.7,571.7" fill="none" stroke="#c2c1c6" stroke-width="1.1"/><line x1="291.8" y1="575.9" x2="298.2" y2="575.9" stroke="#c8c7cc" stroke-width=".8"/><circle cx="295.5" cy="584.5" r="2.8" fill="#dcdce0"/><path d="M290.0,593.0 Q290.0,588.0 295.5,588.0 Q301.0,588.0 301.0,593.0Z" fill="#dcdce0"/><circle cx="376.5" cy="571.5" r="7.4" fill="#fff"/><path d="M373.7,574.1 L376.5,567.3 L379.3,574.1 M374.8,571.7 L378.2,571.7" fill="none" stroke="#c2c1c6" stroke-width="1.1"/><line x1="373.3" y1="575.9" x2="379.7" y2="575.9" stroke="#c8c7cc" stroke-width=".8"/><circle cx="377" cy="584.5" r="2.8" fill="#dcdce0"/><path d="M371.5,593.0 Q371.5,588.0 377,588.0 Q382.5,588.0 382.5,593.0Z" fill="#dcdce0"/><circle cx="458.5" cy="573.5" r="7.4" fill="#fff"/><path d="M455.7,576.1 L458.5,569.3 L461.3,576.1 M456.8,573.7 L460.2,573.7" fill="none" stroke="#c2c1c6" stroke-width="1.1"/><line x1="455.3" y1="577.9" x2="461.7" y2="577.9" stroke="#c8c7cc" stroke-width=".8"/><circle cx="459" cy="586.0" r="2.8" fill="#dcdce0"/><path d="M453.5,594.5 Q453.5,589.5 459,589.5 Q464.5,589.5 464.5,594.5Z" fill="#dcdce0"/><circle cx="537.0" cy="567.5" r="7.4" fill="#fff"/><path d="M534.2,570.1 L537.0,563.3 L539.8,570.1 M535.3,567.7 L538.7,567.7" fill="none" stroke="#c2c1c6" stroke-width="1.1"/><line x1="533.8" y1="571.9" x2="540.2" y2="571.9" stroke="#c8c7cc" stroke-width=".8"/><circle cx="537.5" cy="583.5" r="2.8" fill="#dcdce0"/><path d="M532.0,592.0 Q532.0,587.0 537.5,587.0 Q543.0,587.0 543.0,592.0Z" fill="#dcdce0"/><line x1="324" y1="598" x2="324" y2="611" stroke="#333" stroke-width="0.9"/><line x1="405" y1="598" x2="405" y2="611" stroke="#333" stroke-width="0.9"/><line x1="487" y1="598" x2="487" y2="611" stroke="#333" stroke-width="0.9"/><line x1="566" y1="598" x2="566" y2="611" stroke="#333" stroke-width="0.9"/><path d="M696,519 Q697,512 704,511.5 L704,508.5 L709,513 L704,517.5 L704,514.5 Q699,514.5 696,519Z" fill="#fff"/><rect x="695.5" y="555.2" width="11" height="1.6" fill="#fff"/><rect x="700.2" y="550.5" width="1.6" height="11" fill="#fff"/><rect x="664.5" y="593" width="7" height="1.2" fill="#888"/><rect x="709" y="593" width="9" height="1.2" fill="#888"/><rect x="712.9" y="589" width="1.2" height="9" fill="#888"/></svg>
</div>
<div class="a" style="left:954px;top:240px;width:222px;height:450px;border-radius:34px;background:#1b191c;box-shadow:inset 0 0 0 1px #363437,inset 0 0 0 3px #1e1c1f,inset 0 0 0 4px #141215,0 5px 6px rgba(0,0,0,.3)"></div>
<div class="a" style="left:951.5px;top:302px;width:3px;height:16.5px;background:#1b191c;border-radius:1px"></div>
<div class="a" style="left:951.5px;top:334.5px;width:3px;height:31.5px;background:#1b191c;border-radius:1px"></div>
<div class="a" style="left:951.5px;top:375px;width:3px;height:32.5px;background:#1b191c;border-radius:1px"></div>
<div class="a" style="left:1175.5px;top:345px;width:2.5px;height:50px;background:#1b191c;border-radius:1px"></div>
<div class="full" style="clip-path:inset(251px 35px 50px 965px round 27px)">
<div class="a" style="left:965px;top:251px;width:200px;height:431px;background:#fff"></div>
<div class="a" style="left:965px;top:295px;width:200px;height:79px;background:#7fa0d0"></div>
<div class="a" style="left:965px;top:516px;width:200px;height:120px;background:#7fa0d0"></div>
<div class="t" style="left:982px;top:259.3px;font-size:7.4px;color:#222;font-weight:bold;">15:35</div>
<div class="t" style="left:998px;top:280.0px;font-size:9.0px;color:#222;font-weight:bold;">KUZEN_DEMO</div>
<div class="a" style="left:984px;top:295px;width:96px;height:22.5px;background:#fff;border-radius:0 0 9px 9px"></div>
<div class="t" style="left:991px;top:295.7px;font-size:7.15px;color:#333;font-weight:normal;">【1/4問】</div>
<div class="t" style="left:992px;top:305.2px;font-size:7.15px;color:#333;font-weight:normal;">ご年齢を教えて下さい！</div>
<div class="a" style="left:1124px;top:322px;width:39px;height:16.600000000000023px;background:#5db86c;border-radius:8px"></div>
<div class="t" style="left:993.5px;width:300px;text-align:center;top:326.5px;font-size:7.6px;color:#1e2e1e;font-weight:normal;">▶ 20代</div>
<div class="a" style="left:984px;top:343px;width:118px;height:28px;background:#fff;border-radius:8px"></div>
<div class="t" style="left:991px;top:348.8px;font-size:7.15px;color:#333;font-weight:normal;">【2/4問】</div>
<div class="t" style="left:992px;top:357.7px;font-size:7.15px;color:#333;font-weight:normal;">お肌のタイプを教えて下さい！</div>
<div class="a" style="left:1002.5px;top:406.5px;width:124.5px;height:73px;background:#dbeeea;border-radius:5px"></div>
<div class="a" style="left:1038px;top:380px;width:55px;height:15.5px;background:#2aa89b;border-radius:8px"></div>
<div class="t" style="left:915.5px;width:300px;text-align:center;top:384.6px;font-size:6.8px;color:#fff;font-weight:normal;">水分量少ない</div>
<div class="a" style="left:1038px;top:491px;width:55px;height:15px;background:#2aa89b;border-radius:8px"></div>
<div class="t" style="left:915.5px;width:300px;text-align:center;top:495.1px;font-size:6.8px;color:#fff;font-weight:normal;">水分量多い</div>
<div class="a" style="left:974.5px;top:418px;width:15px;height:48px;background:#2aa89b;border-radius:8px"></div>
<div class="a" style="left:1142px;top:418px;width:15px;height:48px;background:#2aa89b;border-radius:8px"></div>
<div class="t" style="left:974.5px;top:427px;width:15px;font-size:6px;color:#fff;text-align:center;line-height:6.2px;white-space:normal">皮<br>脂<br>少<br>な<br>い</div>
<div class="t" style="left:1142px;top:430px;width:15px;font-size:6px;color:#fff;text-align:center;line-height:6.2px;white-space:normal">皮<br>脂<br>多<br>い</div>
<div class="t" style="left:885px;width:300px;text-align:center;top:421.0px;font-size:10px;color:#2aa89b;font-weight:bold;">乾燥肌</div>
<div class="t" style="left:946px;width:300px;text-align:center;top:421.0px;font-size:10px;color:#2aa89b;font-weight:bold;">混合肌</div>
<div class="t" style="left:885px;width:300px;text-align:center;top:459.0px;font-size:10px;color:#2aa89b;font-weight:bold;">普通肌</div>
<div class="t" style="left:946px;width:300px;text-align:center;top:459.0px;font-size:10px;color:#2aa89b;font-weight:bold;">脂肪肌</div>
<div class="a" style="left:1120px;top:527px;width:43px;height:17px;background:#5db86c;border-radius:8px"></div>
<div class="t" style="left:991.5px;width:300px;text-align:center;top:531.7px;font-size:7.6px;color:#1e2e1e;font-weight:normal;">▶ 乾燥肌</div>
<div class="a" style="left:985px;top:548px;width:109px;height:32px;background:#fff;border-radius:8px"></div>
<div class="t" style="left:991px;top:553.3px;font-size:7.15px;color:#333;font-weight:normal;">【3/4問】</div>
<div class="t" style="left:992px;top:565.0px;font-size:7.15px;color:#333;font-weight:normal;">ご予算<span style="display:inline-block;width:11px;height:8px;border-radius:4px;background:#e35590;vertical-align:-1px;margin:0 1px"></span>を教えて下さい！</div>
<div class="a" style="left:1074.5px;top:584px;width:88.5px;height:17px;background:#5db86c;border-radius:8px"></div>
<div class="t" style="left:968.75px;width:300px;text-align:center;top:588.7px;font-size:7.6px;color:#1e2e1e;font-weight:normal;">▶ 5,000円～8,000円</div>
<div class="a" style="left:985px;top:605px;width:117px;height:27px;background:#fff;border-radius:8px"></div>
<div class="t" style="left:991px;top:610.4px;font-size:7.15px;color:#333;font-weight:normal;">【最後】</div>
<div class="t" style="left:992px;top:619.9px;font-size:7.15px;color:#333;font-weight:normal;">お肌のお悩みを教えて下さい！</div>
<div class="a" style="left:1056px;top:645px;width:83px;height:13.5px;background:#f3f3f5;border-radius:7px"></div>
<div class="a" style="left:1030px;top:675px;width:70px;height:2.5px;background:#1b1b1b;border-radius:2px"></div>
<svg width="1200" height="732"><g fill="#333"><rect x="1123" y="263" width="1.6" height="2.5"/><rect x="1125.3" y="261.5" width="1.6" height="4"/><rect x="1127.6" y="260" width="1.6" height="5.5"/><rect x="1129.9" y="258.8" width="1.6" height="6.7"/></g><path d="M1135.5,261 Q1139,257.5 1142.5,261 L1141.3,262.2 Q1139,260 1136.7,262.2Z M1137.6,263.2 Q1139,262 1140.4,263.2 L1139,265Z" fill="#333"/><rect x="1144" y="259" width="10" height="6.2" rx="1.5" fill="#42c95a"/><rect x="1154.3" y="261" width="1" height="2.4" fill="#42c95a"/><polyline points="976,280 972,284.5 976,289" fill="none" stroke="#333" stroke-width="1.2"/><path d="M987,281 L990.5,279.8 L994,281 L994,285 Q994,288.5 990.5,289.5 Q987,288.5 987,285Z" fill="#222"/><circle cx="990.5" cy="284.5" r="1.6" fill="#fff"/><circle cx="1108.8" cy="283" r="3.8" fill="none" stroke="#333" stroke-width="1.1"/><line x1="1111.5" y1="285.8" x2="1114" y2="288.5" stroke="#333" stroke-width="1.2"/><path d="M1108.8,281 L1108.8,283.2 L1110.5,284" fill="none" stroke="#333" stroke-width=".8"/><rect x="1127.5" y="279.5" width="8" height="9.5" rx="1" fill="none" stroke="#333" stroke-width="1"/><rect x="1129.6" y="282" width="3.8" height="4.5" fill="none" stroke="#555" stroke-width=".7"/><g fill="#333"><rect x="1149" y="279.5" width="9" height="1.1"/><rect x="1149" y="283.5" width="9" height="1.1"/><rect x="1149" y="287.5" width="9" height="1.1"/></g><g fill="#6f8ec2" opacity=".8"><rect x="1113" y="327" width="7" height="2.5"/><rect x="1112" y="331.5" width="9" height="2"/></g><circle cx="974" cy="348.7" r="7.2" fill="#fff"/><rect x="971.4" y="343.7" width="1.4" height="9.5" fill="#444"/><polyline points="977,347.2 973.2,350.3 977,353.3" fill="none" stroke="#2ab0a3" stroke-width="1.5"/><g fill="#6f8ec2" opacity=".7"><rect x="1082" y="312" width="9" height="2"/><rect x="1104" y="366" width="8" height="2"/><rect x="1096" y="575" width="9" height="2"/><rect x="1104" y="627" width="8" height="2"/><rect x="1152" y="519" width="9" height="2"/></g><path d="M986,344 L981,341.5 L991,347Z" fill="#fff"/><line x1="1065.2" y1="402" x2="1065.2" y2="485" stroke="#2aa89b" stroke-width="1.8"/><path d="M1061.5,404 L1065.2,398.5 L1068.9,404Z M1061.5,484 L1065.2,489 L1068.9,484Z" fill="#2aa89b"/><line x1="996" y1="443" x2="1134" y2="443" stroke="#2aa89b" stroke-width="1.8"/><path d="M998,439.3 L992.5,443 L998,446.7Z M1132,439.3 L1137.5,443 L1132,446.7Z" fill="#2aa89b"/><g fill="#6f8ec2" opacity=".8"><rect x="1109" y="532" width="7" height="2.5"/><rect x="1108" y="536.5" width="9" height="2"/></g><circle cx="974.5" cy="553.6" r="7.2" fill="#fff"/><rect x="971.9" y="548.6" width="1.4" height="9.5" fill="#444"/><polyline points="977.5,552.1 973.7,555.2 977.5,558.2" fill="none" stroke="#2ab0a3" stroke-width="1.5"/><path d="M987,549 L982,546.5 L992,552Z" fill="#fff"/><g fill="#6f8ec2" opacity=".8"><rect x="1063.5" y="589" width="7" height="2.5"/><rect x="1062.5" y="593.5" width="9" height="2"/></g><circle cx="974.5" cy="611" r="7.2" fill="#fff"/><rect x="971.9" y="606" width="1.4" height="9.5" fill="#444"/><polyline points="977.5,609.5 973.7,612.6 977.5,615.6" fill="none" stroke="#2ab0a3" stroke-width="1.5"/><path d="M987,606 L982,603.5 L992,609Z" fill="#fff"/><g fill="#444"><rect x="974" y="647.5" width="10" height="1.2"/><rect x="974" y="651.2" width="10" height="1.2"/><rect x="974" y="655" width="10" height="1.2"/><rect x="992.5" y="651" width="11" height="1.3"/><rect x="997.4" y="646" width="1.3" height="11"/></g><rect x="1012.5" y="647.5" width="11" height="8.5" rx="1.5" fill="none" stroke="#444" stroke-width="1.1"/><circle cx="1018" cy="651.8" r="2.3" fill="none" stroke="#444" stroke-width="1.1"/><rect x="1015.5" y="646" width="5" height="2" fill="#444"/><rect x="1034" y="646.5" width="11" height="10" rx="1" fill="none" stroke="#444" stroke-width="1.1"/><polyline points="1035,655 1038.5,651 1041,653.5 1044,650" fill="none" stroke="#444" stroke-width="1"/><circle cx="1131" cy="651.5" r="4.6" fill="none" stroke="#888" stroke-width="1"/><circle cx="1129.4" cy="650.5" r=".6" fill="#888"/><circle cx="1132.6" cy="650.5" r=".6" fill="#888"/><path d="M1129,653 Q1131,655 1133,653" fill="none" stroke="#888" stroke-width=".8"/><rect x="1150.3" y="645.5" width="3.6" height="7.5" rx="1.8" fill="#444"/><path d="M1148.8,651 Q1148.8,655.5 1152.1,655.5 Q1155.4,655.5 1155.4,651" fill="none" stroke="#444" stroke-width="1"/><rect x="1151.6" y="655.5" width="1" height="2.5" fill="#444"/></svg>
<div class="a" style="left:1011px;top:245px;width:107px;height:21px;border-radius:0 0 11px 11px;background:#1b191c"></div>
<div class="a" style="left:1048px;top:252.5px;width:28px;height:4.5px;border-radius:3px;background:#050505;filter:blur(.6px)"></div>
</div>
</body></html>
